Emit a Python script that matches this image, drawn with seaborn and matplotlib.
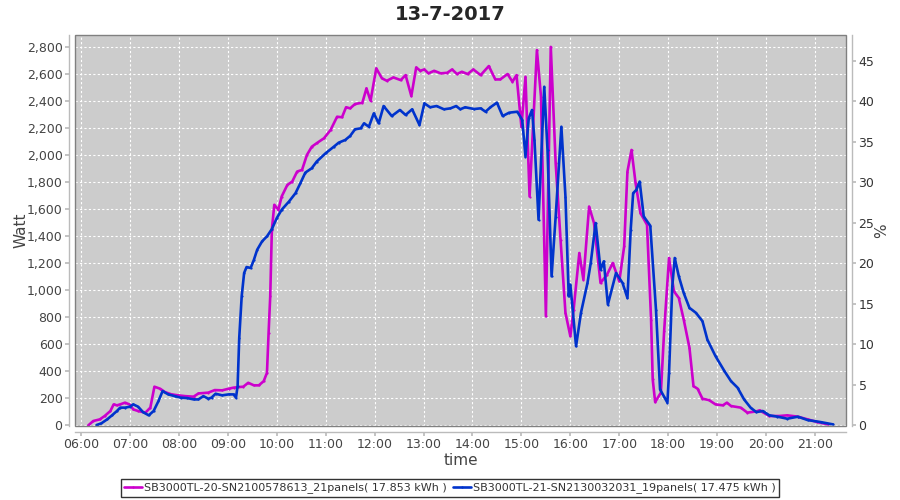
import matplotlib
matplotlib.use("Agg")
import matplotlib.pyplot as plt
import matplotlib.dates as mdates
from matplotlib.ticker import MultipleLocator, FuncFormatter
from matplotlib.patches import Rectangle
import seaborn as sns
import pandas as pd

TITLE = "13-7-2017"
DAY = "2017-07-13"
SERIES_M = "SB3000TL-20-SN2100578613_21panels( 17.853 kWh )"
SERIES_B = "SB3000TL-21-SN2130032031_19panels( 17.475 kWh )"

m_times = ["06:09", "06:15", "06:23", "06:29", "06:36", "06:40", "06:44", "06:48", "06:54", "07:00",
           "07:04", "07:10", "07:19", "07:25", "07:30", "07:37", "07:43", "07:51", "07:59", "08:08",
           "08:18", "08:24", "08:36", "08:44", "08:53", "09:01", "09:07", "09:13", "09:19", "09:25",
           "09:32", "09:38", "09:44", "09:48", "09:50", "09:52", "09:54", "09:57", "10:02", "10:06",
           "10:13", "10:19", "10:25", "10:31", "10:37", "10:43", "10:49", "10:58", "11:06", "11:14",
           "11:20", "11:25", "11:30", "11:36", "11:45", "11:50", "11:55", "12:02", "12:09", "12:15",
           "12:23", "12:32", "12:38", "12:45", "12:51", "12:56", "13:01", "13:06", "13:13", "13:21",
           "13:29", "13:35", "13:41", "13:47", "13:54", "14:01", "14:10", "14:20", "14:28", "14:34",
           "14:43", "14:49", "14:54", "15:00", "15:05", "15:10", "15:19", "15:24", "15:30", "15:36",
           "15:42", "15:48", "15:54", "16:00", "16:04", "16:11", "16:16", "16:23", "16:29", "16:37",
           "16:45", "16:52", "17:00", "17:06", "17:10", "17:15", "17:20", "17:26", "17:34", "17:39",
           "17:41", "17:44", "17:51", "17:55", "18:01", "18:07", "18:13", "18:19", "18:26", "18:31",
           "18:36", "18:42", "18:50", "18:58", "19:07", "19:12", "19:17", "19:29", "19:37", "19:48",
           "19:52", "20:04", "20:16", "20:26", "20:39", "20:51", "21:03", "21:16"]
m_watts = [0, 32, 44, 69, 106, 155, 148, 155, 168, 153,
           118, 106, 94, 131, 286, 271, 246, 229, 222, 216,
           212, 236, 242, 261, 259, 271, 279, 283, 286, 315,
           296, 296, 327, 389, 685, 955, 1448, 1633, 1596, 1694,
           1780, 1805, 1879, 1891, 2002, 2063, 2089, 2126, 2187, 2285,
           2281, 2355, 2347, 2379, 2389, 2495, 2403, 2643, 2569, 2551,
           2576, 2556, 2593, 2438, 2650, 2625, 2635, 2606, 2625, 2606,
           2610, 2635, 2601, 2618, 2601, 2635, 2593, 2660, 2561, 2561,
           2601, 2544, 2593, 2211, 2581, 1694, 2778, 2433, 808, 2802,
           1941, 1374, 833, 660, 857, 1276, 1079, 1620, 1498, 1054,
           1116, 1202, 1066, 1325, 1879, 2039, 1793, 1571, 1485, 783,
           340, 172, 242, 697, 1239, 992, 943, 783, 576, 290,
           271, 197, 187, 155, 148, 168, 143, 131, 94, 103,
           111, 69, 69, 74, 64, 44, 24, 7]

b_times = ["06:19", "06:25", "06:32", "06:38", "06:44", "06:48", "06:54", "07:00", "07:04", "07:10",
           "07:16", "07:23", "07:29", "07:35", "07:40", "07:47", "07:55", "08:02", "08:10", "08:18",
           "08:24", "08:30", "08:36", "08:40", "08:45", "08:53", "09:01", "09:07", "09:10", "09:12",
           "09:14", "09:17", "09:20", "09:23", "09:28", "09:32", "09:36", "09:42", "09:48", "09:54",
           "10:00", "10:06", "10:15", "10:23", "10:29", "10:35", "10:43", "10:49", "11:00", "11:10",
           "11:16", "11:24", "11:30", "11:36", "11:43", "11:47", "11:53", "11:59", "12:05", "12:11",
           "12:21", "12:31", "12:38", "12:46", "12:55", "13:01", "13:08", "13:16", "13:25", "13:33",
           "13:40", "13:45", "13:51", "14:02", "14:10", "14:16", "14:22", "14:30", "14:37", "14:45",
           "14:55", "15:01", "15:05", "15:09", "15:13", "15:16", "15:21", "15:28", "15:32", "15:37",
           "15:42", "15:49", "15:54", "15:58", "16:00", "16:07", "16:13", "16:21", "16:25", "16:31",
           "16:37", "16:41", "16:46", "16:56", "17:04", "17:10", "17:14", "17:17", "17:21", "17:25",
           "17:30", "17:38", "17:45", "17:50", "17:55", "17:59", "18:01", "18:05", "18:08", "18:13",
           "18:19", "18:26", "18:34", "18:42", "18:48", "18:58", "19:09", "19:17", "19:25", "19:33",
           "19:41", "19:48", "19:56", "20:04", "20:14", "20:26", "20:39", "20:51", "21:07", "21:22"]
b_watts = [2, 15, 44, 74, 106, 131, 131, 138, 155, 138,
           98, 74, 106, 180, 253, 229, 216, 205, 202, 192,
           192, 216, 197, 205, 234, 222, 229, 229, 205, 290,
           648, 955, 1128, 1172, 1165, 1226, 1300, 1362, 1399, 1453,
           1534, 1596, 1657, 1719, 1793, 1871, 1904, 1953, 2015, 2063,
           2093, 2113, 2143, 2192, 2199, 2236, 2211, 2310, 2236, 2364,
           2290, 2335, 2298, 2340, 2224, 2384, 2355, 2364, 2340, 2347,
           2364, 2340, 2355, 2342, 2347, 2322, 2355, 2389, 2290, 2315,
           2322, 2261, 1990, 2273, 2335, 2113, 1522, 2507, 2039, 1103,
           1546, 2211, 1694, 955, 1042, 586, 833, 1054, 1202, 1498,
           1153, 1214, 894, 1128, 1054, 943, 1448, 1719, 1744, 1805,
           1546, 1478, 857, 266, 212, 168, 389, 1029, 1239, 1103,
           980, 870, 833, 771, 635, 512, 401, 327, 279, 192,
           131, 98, 106, 74, 64, 49, 64, 39, 24, 7]

COL_M = "#CC00CC"
COL_B = "#0033CC"

df = pd.concat([
    pd.DataFrame({"time": pd.to_datetime([f"{DAY} {t}" for t in m_times]), "Watt": m_watts, "series": SERIES_M}),
    pd.DataFrame({"time": pd.to_datetime([f"{DAY} {t}" for t in b_times]), "Watt": b_watts, "series": SERIES_B}),
], ignore_index=True)

sns.set_theme(style="white")
plt.rcParams["font.family"] = ["DejaVu Sans"]

fig = plt.figure(figsize=(9, 5), dpi=100)
ax = fig.add_axes([75 / 900, 1 - 426 / 500, (846 - 75) / 900, (426 - 35) / 500])
ax.set_facecolor("#CCCCCC")

sns.lineplot(data=df, x="time", y="Watt", hue="series", palette={SERIES_M: COL_M, SERIES_B: COL_B},
             hue_order=[SERIES_M, SERIES_B], sort=False, linewidth=1.9, marker="o", markersize=1.6,
             markeredgewidth=0, legend=False, ax=ax)

ax.set_xlim(pd.Timestamp(f"{DAY} 05:52:37"), pd.Timestamp(f"{DAY} 21:38:00"))
ax.set_ylim(-5, 2890)
ax.xaxis.set_major_locator(mdates.HourLocator())
ax.xaxis.set_major_formatter(mdates.DateFormatter("%H:%M"))
ax.yaxis.set_major_locator(MultipleLocator(200))
ax.yaxis.set_major_formatter(FuncFormatter(lambda v, p: f"{int(round(v)):,}"))
ax.grid(True, color="white", linestyle=(0, (2, 2)), linewidth=0.8)
ax.set_axisbelow(True)

ax2 = ax.twinx()
ax2.set_ylim(-5 / 60, 2890 / 60)
ax2.yaxis.set_major_locator(MultipleLocator(5))

axis_col = "#BBBBBB"
for a in (ax, ax2):
    for s in a.spines.values():
        s.set_visible(False)
ax.spines["left"].set_visible(True)
ax.spines["bottom"].set_visible(True)
ax2.spines["right"].set_visible(True)
for s in (ax.spines["left"], ax.spines["bottom"], ax2.spines["right"]):
    s.set_position(("outward", 4))
    s.set_color(axis_col)
    s.set_linewidth(1)

ax.tick_params(axis="both", length=3, color=axis_col, labelsize=9, labelcolor="#444444", pad=2)
ax.tick_params(axis="y", left=True)
ax.tick_params(axis="x", bottom=True)
ax2.tick_params(axis="y", right=True, length=3, color=axis_col, labelsize=9, labelcolor="#333333", pad=2)

ax.add_patch(Rectangle((0, 0), 1, 1, transform=ax.transAxes, fill=False, edgecolor="#808080",
                       linewidth=1, clip_on=False, zorder=5))

ax.set_xlabel("time", fontsize=11, color="#444444", labelpad=1)
ax.set_ylabel("Watt", fontsize=11, color="#444444", labelpad=-1)
ax2.set_ylabel("%", fontsize=11, color="#444444", labelpad=0)

fig.text(0.5, 1 - 14 / 500, TITLE, ha="center", va="center", fontsize=14, fontweight="bold")

handles = ax.get_lines()[:2]
leg = fig.legend(handles, [SERIES_M, SERIES_B], loc="center", bbox_to_anchor=(0.5, 1 - 488 / 500),
                 ncol=2, frameon=True, fancybox=False, fontsize=8, handlelength=1.6, handletextpad=0.25,
                 columnspacing=0.5, borderpad=0.3, borderaxespad=0)
leg.get_frame().set_edgecolor("black")
leg.get_frame().set_linewidth(1)
for t in leg.get_texts():
    t.set_color("#333333")

fig.savefig("out.png", dpi=100)
